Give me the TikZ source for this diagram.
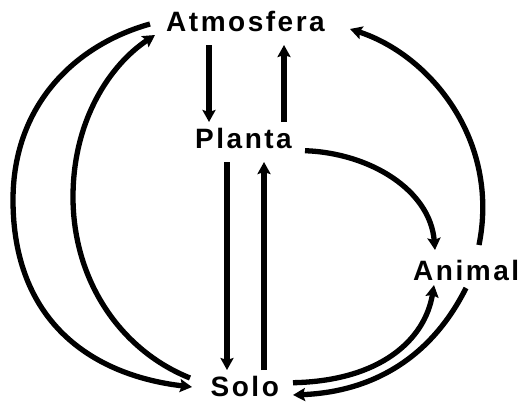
\documentclass[tikz,border=0pt]{standalone}
\usepackage{fontspec}
\setmainfont{Liberation Sans}
\newfontfamily\lblfont[LetterSpace=9]{Liberation Sans}
\usetikzlibrary{arrows.meta,calc}
\begin{document}
\begin{tikzpicture}[x=1pt,y=-1pt,
  lbl/.style={anchor=base west,inner sep=0pt,font=\lblfont\bfseries\fontsize{28}{32}\selectfont},
  conn/.style={line width=5.3pt,-{Stealth[length=12pt,width=13pt,inset=2pt]}}]
\useasboundingbox (0,0) rectangle (527,402);
\node[lbl] (atm) at (166,31.7) {Atmosfera};
\node[lbl] (pla) at (195,148.3) {Planta};
\node[lbl] (ani) at (413,280) {Animal};
\node[lbl] (sol) at (210.5,396.7) {Solo};
% Atmosfera <-> Planta
\draw[conn] ($(atm.base west)+(43,13.3)$) -- ($(pla.base west)+(14,-26.3)$);
\draw[conn] ($(pla.base west)+(89,-26.3)$) -- ($(atm.base west)+(118,13.3)$);
% Planta <-> Solo
\draw[conn] ($(pla.base west)+(32,13.7)$) -- ($(sol.base west)+(16.5,-26.7)$);
\draw[conn] ($(sol.base west)+(53.5,-26.7)$) -- ($(pla.base west)+(69,13.7)$);
% Planta -> Animal
\draw[conn] ($(pla.base west)+(110,2.4)$) .. controls (370,153) and (430,190) .. ($(ani.base west)+(22,-30)$);
% Animal -> Atmosfera
\draw[conn] ($(ani.base west)+(66,-35)$) .. controls (500,140) and (430,55) .. ($(atm.base west)+(184,-2.7)$);
% Solo <-> Animal
\draw[conn] ($(sol.base west)+(82.5,-14)$) .. controls (380,381) and (425,340) .. ($(ani.base west)+(21,5)$);
\draw[conn] ($(ani.base west)+(53,8)$) .. controls (430,360) and (370,392) .. ($(sol.base west)+(82.5,-1.7)$);
% Atmosfera -> Solo (outer)
\draw[conn] ($(atm.base west)+(-16,-7.7)$) .. controls (75,45) and (13,105) .. (13,200)
  .. controls (13,320) and (90,375) .. ($(sol.base west)+(-18.5,-9.7)$);
% Solo -> Atmosfera (inner)
\draw[conn] ($(sol.base west)+(-20.5,-18.7)$) .. controls (120,350) and (73,280) .. (73,197)
  .. controls (73,120) and (110,65) .. ($(atm.base west)+(-11,3.3)$);
\end{tikzpicture}
\end{document}
